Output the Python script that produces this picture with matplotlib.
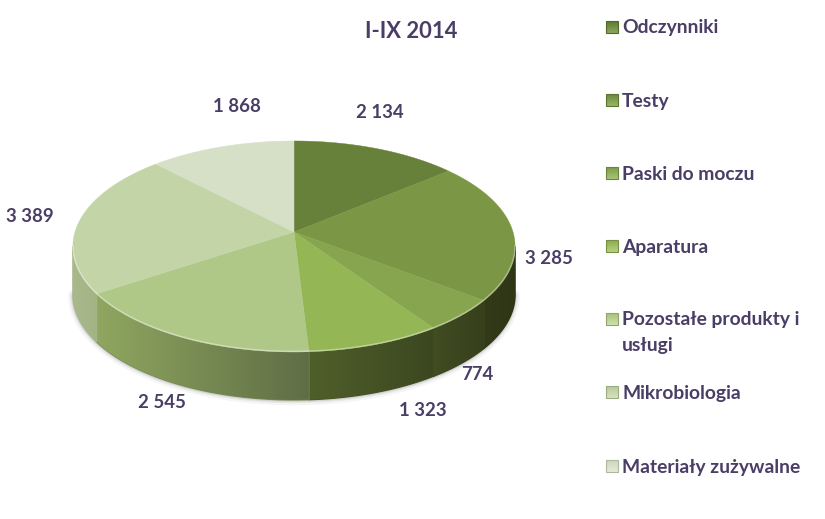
import numpy as np
import matplotlib
matplotlib.use("Agg")
import matplotlib.pyplot as plt
from matplotlib.colors import to_rgb
from matplotlib.patches import Polygon, Rectangle

title = "I-IX 2014"
categories = ["Odczynniki", "Testy", "Paski do moczu", "Aparatura",
              "Pozostałe produkty i\nusługi", "Mikrobiologia", "Materiały zużywalne"]
values = [2134, 3285, 774, 1323, 2545, 3389, 1868]

top_colors = ["#68813a", "#7b9644", "#86a54e", "#95b655", "#afc888", "#c3d4a6", "#d6e0c6"]
wall_left = ["#3a4219", "#323a18", "#414c22", "#4f5f2a", "#8fa660", "#a9b98d", "#c0ccab"]
wall_right = ["#2e3514", "#2f3616", "#363f1b", "#3c4720", "#5f6e45", "#a2b384", "#c0ccab"]
legend_dark = ["#5f7a30", "#6c8a3a", "#7d9c48", "#8cab50", "#a8c27c", "#b8c99a", "#cdd8ba"]
legend_light = ["#8aa65a", "#98b368", "#a8c278", "#b6d07e", "#cfe0ac", "#d6e2c0", "#e4ead8"]

label_pos = [(380, 112), (549, 259), (477, 375), (423, 411), (162, 403), (30, 216), (237, 107)]
legend_y = [27, 100, 173, 246, 319, 392, 466]

TEXT = "#4a3e66"
FONT = "Lato"
CX, CY, RX, RY, K, DEPTH = 294, 232, 219, 103.5, 0.137, 48


def project(theta):
    u, v = np.sin(theta), np.cos(theta)
    d = 1 + K * v
    return CX + RX * u / d, CY - RY * v / d


fig = plt.figure(figsize=(8.25, 5.19), dpi=100, facecolor="white")
ax = fig.add_axes([0, 0, 1, 1])
ax.set_axis_off()

edges = np.concatenate([[0], np.cumsum(values)]) / sum(values) * 2 * np.pi
th_r, th_l = np.arccos(-K), 2 * np.pi - np.arccos(-K)

# soft shadow under the wall
arc = np.linspace(th_r, th_l, 200)
ax_, ay_ = project(arc)
for w, a in [(7, 0.05), (4, 0.08), (2, 0.12)]:
    ax.plot(ax_, ay_ + DEPTH + 0.5, color="#404040", lw=w, alpha=a, zorder=1, solid_capstyle="round")

# side wall
for i in range(len(values)):
    a, b = max(edges[i], th_r), min(edges[i + 1], th_l)
    if a >= b:
        continue
    t = np.linspace(a, b, 80)
    x, y = project(t)
    pts = np.r_[np.c_[x, y], np.c_[x[::-1], y[::-1] + DEPTH]]
    c0, c1 = np.array(to_rgb(wall_left[i])), np.array(to_rgb(wall_right[i]))
    base = Polygon(pts, closed=True, fc=(c0 + c1) / 2, ec=(c0 + c1) / 2, lw=1.0, zorder=2)
    ax.add_patch(base)
    poly = Polygon(pts, closed=True, fc="none", ec="none", zorder=2)
    ax.add_patch(poly)
    g = np.linspace(0, 1, 64)[None, :, None]
    img = c0[None, None, :] * (1 - g) + c1[None, None, :] * g
    im = ax.imshow(img, extent=[x.min(), x.max(), y.max() + DEPTH, y.min()], aspect="auto",
                   interpolation="bilinear", zorder=2)
    im.set_clip_path(poly)

# top face
for i in range(len(values)):
    t = np.linspace(edges[i], edges[i + 1], 120)
    x, y = project(t)
    ax.fill(np.r_[CX, x], np.r_[CY, y], color=top_colors[i], lw=0.3, zorder=3)

# rim bevel
ax.plot(ax_, ay_ - 0.5, color="#ffffff", lw=1.1, alpha=0.4, zorder=4)

# value labels
for v, (lx, ly) in zip(values, label_pos):
    ax.text(lx, ly, f"{v:,}".replace(",", " "), ha="center", va="center",
            fontsize=13.4, fontweight="bold", family=FONT, color=TEXT, zorder=5)

ax.text(411, 32, title, ha="center", va="center", fontsize=15.8, fontweight="bold",
        family=FONT, color=TEXT, zorder=5)

# legend
for i, (name, ly) in enumerate(zip(categories, legend_y)):
    c0, c1 = np.array(to_rgb(legend_dark[i])), np.array(to_rgb(legend_light[i]))
    g = np.linspace(0, 1, 12)[:, None, None]
    img = c0[None, None, :] * (1 - g) + c1[None, None, :] * g
    ax.imshow(img, extent=[606, 618, ly + 6, ly - 6], aspect="auto", zorder=5)
    ax.add_patch(Rectangle((606, ly - 6), 12, 12, fc="none", ec=c0 * 0.85, lw=0.8, zorder=6))
    parts = name.split("\n")
    ax.text(622, ly + 1, parts[0], ha="left", va="center", fontsize=13.9, fontweight="bold",
            family=FONT, color=TEXT, zorder=5)
    if len(parts) > 1:
        ax.text(622, ly + 26, parts[1], ha="left", va="center", fontsize=13.9,
                fontweight="bold", family=FONT, color=TEXT, zorder=5)

ax.set_xlim(0, 825)
ax.set_ylim(519, 0)
fig.savefig("out.png", dpi=100)
